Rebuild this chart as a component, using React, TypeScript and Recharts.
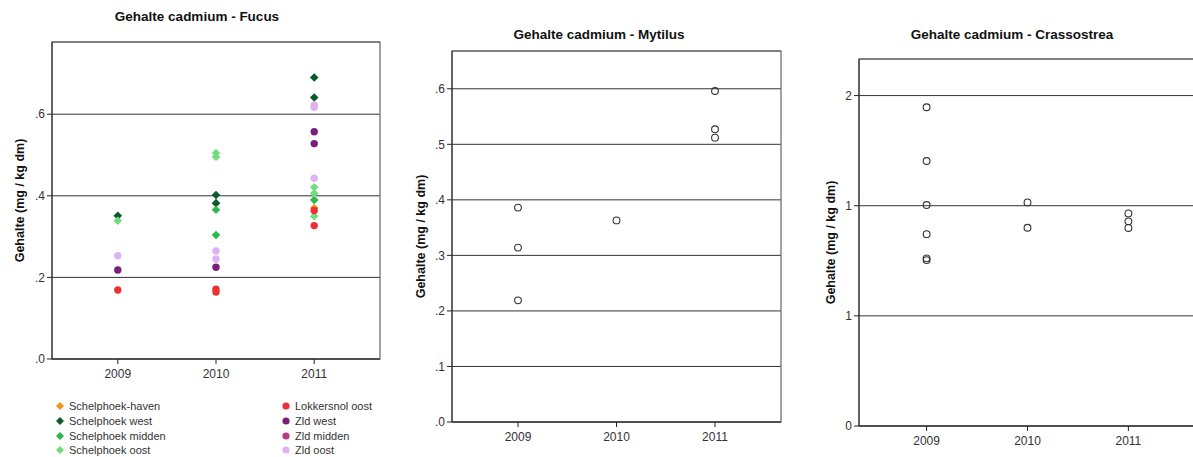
import { ScatterChart, Scatter, XAxis, YAxis, CartesianGrid, ReferenceArea } from "recharts"

const years = [2009, 2010, 2011]
const xDomain: [number, number] = [2008.33, 2011.67]

// Fucus (mg / kg dm), one list of values per year
const schelphoekHaven = [[], [], [0.37]]
const schelphoekWest = [[0.351], [0.402, 0.382], [0.69, 0.641]]
const schelphoekMidden = [[], [0.366, 0.304], [0.39]]
const schelphoekOost = [[0.339], [0.505, 0.495], [0.421, 0.406, 0.35]]
const lokkersnolOost = [[0.169], [0.171, 0.164], [0.364, 0.327]]
const zldWest = [[0.218], [0.225], [0.557, 0.528]]
const zldMidden = [[], [], []]
const zldOost = [[0.253], [0.265, 0.245], [0.622, 0.617, 0.443]]

const mytilus = [[0.386, 0.314, 0.219], [0.363], [0.596, 0.527, 0.512]]
const crassostrea = [
  [1.447, 1.203, 1.003, 0.871, 0.761, 0.753],
  [1.015, 0.9],
  [0.965, 0.929, 0.899],
]

const fucusTicks = [0, 0.2, 0.4, 0.6]
const mytilusTicks = [0, 0.1, 0.2, 0.3, 0.4, 0.5, 0.6]
const crassostreaTicks = [0, 0.5, 1, 1.5]

const fucusSeries = [
  { name: "Schelphoek-haven", values: schelphoekHaven, color: "#f7931e", shape: "diamond" },
  { name: "Schelphoek west", values: schelphoekWest, color: "#0b5a2a", shape: "diamond" },
  { name: "Schelphoek midden", values: schelphoekMidden, color: "#2eb84b", shape: "diamond" },
  { name: "Schelphoek oost", values: schelphoekOost, color: "#72dd7f", shape: "diamond" },
  { name: "Lokkersnol oost", values: lokkersnolOost, color: "#ee3035", shape: "circle" },
  { name: "Zld west", values: zldWest, color: "#7a1e7a", shape: "circle" },
  { name: "Zld midden", values: zldMidden, color: "#b43c82", shape: "circle" },
  { name: "Zld oost", values: zldOost, color: "#ddb4ef", shape: "circle" },
]

const toPoints = (values: number[][]) =>
  values.flatMap((list, i) => list.map((y) => ({ x: years[i], y })))

const font = '"Liberation Sans", Arial, sans-serif'

const diamondShape = (color: string) => (props: any) => {
  const { cx, cy } = props
  const r = 4.3
  return <path d={`M${cx},${cy - r}L${cx + r},${cy}L${cx},${cy + r}L${cx - r},${cy}Z`} fill={color} />
}

const dotShape = (color: string) => (props: any) => (
  <circle cx={props.cx} cy={props.cy} r={3.7} fill={color} />
)

const ringShape = (props: any) => (
  <circle cx={props.cx} cy={props.cy} r={3.4} fill="none" stroke="#333" strokeWidth={1.1} />
)

const decimalLabel = (v: number) => v.toFixed(1).replace(/^0/, "")
const roundLabel = (v: number) => String(Math.round(v))

interface PanelProps {
  title: string
  left: number
  width: number
  height: number
  margin: { top: number; right: number; left: number; bottom: number }
  yWidth: number
  yDomain: [number, number]
  yTicks: number[]
  yFormat: (v: number) => string
  labelOffset: number
  titleTop: number
  titleCenter: number
  children: any
}

function Panel(p: PanelProps) {
  return (
    <>
      <div
        style={{
          position: "absolute",
          left: p.titleCenter - 150,
          width: 300,
          top: p.titleTop - 8,
          lineHeight: "16px",
          textAlign: "center",
          fontWeight: "bold",
          fontSize: 13.5,
          color: "#111",
        }}
      >
        {p.title}
      </div>
      <div style={{ position: "absolute", left: p.left, top: 0 }}>
        <ScatterChart width={p.width} height={p.height} margin={p.margin}>
          <CartesianGrid vertical={false} stroke="#333" />
          <ReferenceArea
            x1={xDomain[0]}
            x2={xDomain[1]}
            y1={p.yDomain[0]}
            y2={p.yDomain[1]}
            fill="none"
            stroke="#666"
            strokeWidth={1.2}
          />
          <XAxis
            dataKey="x"
            type="number"
            domain={xDomain}
            ticks={years}
            interval={0}
            allowDataOverflow
            tickSize={5}
            tickMargin={5}
            tickFormatter={(v) => String(v)}
            tick={{ fontSize: 12, fill: "#333", fontFamily: font }}
            axisLine={{ stroke: "#222" }}
            tickLine={{ stroke: "#222" }}
            height={30}
          />
          <YAxis
            dataKey="y"
            type="number"
            domain={p.yDomain}
            ticks={p.yTicks}
            interval={0}
            allowDataOverflow
            width={p.yWidth}
            tickSize={5}
            tickFormatter={p.yFormat}
            tick={{ fontSize: 12, fill: "#333", fontFamily: font }}
            axisLine={{ stroke: "#222" }}
            tickLine={{ stroke: "#222" }}
            label={{
              value: "Gehalte (mg / kg dm)",
              angle: -90,
              position: "insideLeft",
              offset: p.labelOffset,
              style: { textAnchor: "middle", fontWeight: "bold", fontSize: 12.5, fill: "#111", fontFamily: font },
            }}
          />
          {p.children}
        </ScatterChart>
      </div>
    </>
  )
}

function LegendItem({ item, x, y }: { item: (typeof fucusSeries)[number]; x: number; y: number }) {
  return (
    <div style={{ position: "absolute", left: x, top: y - 7, height: 14, display: "flex", alignItems: "center" }}>
      <svg width={12} height={12} style={{ marginRight: 3 }}>
        {item.shape === "diamond" ? (
          <path d="M6,2L10,6L6,10L2,6Z" fill={item.color} />
        ) : (
          <circle cx={6} cy={6} r={3.6} fill={item.color} />
        )}
      </svg>
      <span style={{ fontSize: 11, color: "#333", lineHeight: "14px" }}>{item.name}</span>
    </div>
  )
}

export default function App() {
  const rows = [406, 421, 436, 450]
  return (
    <div
      style={{
        position: "absolute",
        left: 0,
        top: 0,
        width: 1193,
        height: 457,
        overflow: "hidden",
        background: "#fff",
        fontFamily: font,
      }}
    >
      <Panel
        title="Gehalte cadmium - Fucus"
        titleCenter={197}
        titleTop={17}
        left={0}
        width={400}
        height={400}
        margin={{ top: 42, right: 20, left: 0, bottom: 11 }}
        yWidth={52}
        yDomain={[0, 0.777]}
        yTicks={fucusTicks}
        yFormat={decimalLabel}
        labelOffset={20}
      >
        {fucusSeries.map((s) => (
          <Scatter
            key={s.name}
            name={s.name}
            data={toPoints(s.values)}
            shape={s.shape === "diamond" ? diamondShape(s.color) : dotShape(s.color)}
            isAnimationActive={false}
          />
        ))}
      </Panel>

      {fucusSeries.slice(0, 4).map((s, i) => (
        <LegendItem key={s.name} item={s} x={54} y={rows[i]} />
      ))}
      {fucusSeries.slice(4).map((s, i) => (
        <LegendItem key={s.name} item={s} x={280} y={rows[i]} />
      ))}

      <Panel
        title="Gehalte cadmium - Mytilus"
        titleCenter={599}
        titleTop={35}
        left={400}
        width={400}
        height={457}
        margin={{ top: 51, right: 19, left: 0, bottom: 5 }}
        yWidth={52}
        yDomain={[0, 0.668]}
        yTicks={mytilusTicks}
        yFormat={decimalLabel}
        labelOffset={21}
      >
        <Scatter name="Mytilus" data={toPoints(mytilus)} shape={ringShape} isAnimationActive={false} />
      </Panel>

      <Panel
        title="Gehalte cadmium - Crassostrea"
        titleCenter={1012}
        titleTop={35}
        left={800}
        width={400}
        height={457}
        margin={{ top: 59, right: 4, left: 0, bottom: 1 }}
        yWidth={59}
        yDomain={[0, 1.666]}
        yTicks={crassostreaTicks}
        yFormat={roundLabel}
        labelOffset={31}
      >
        <Scatter name="Crassostrea" data={toPoints(crassostrea)} shape={ringShape} isAnimationActive={false} />
      </Panel>
    </div>
  )
}
